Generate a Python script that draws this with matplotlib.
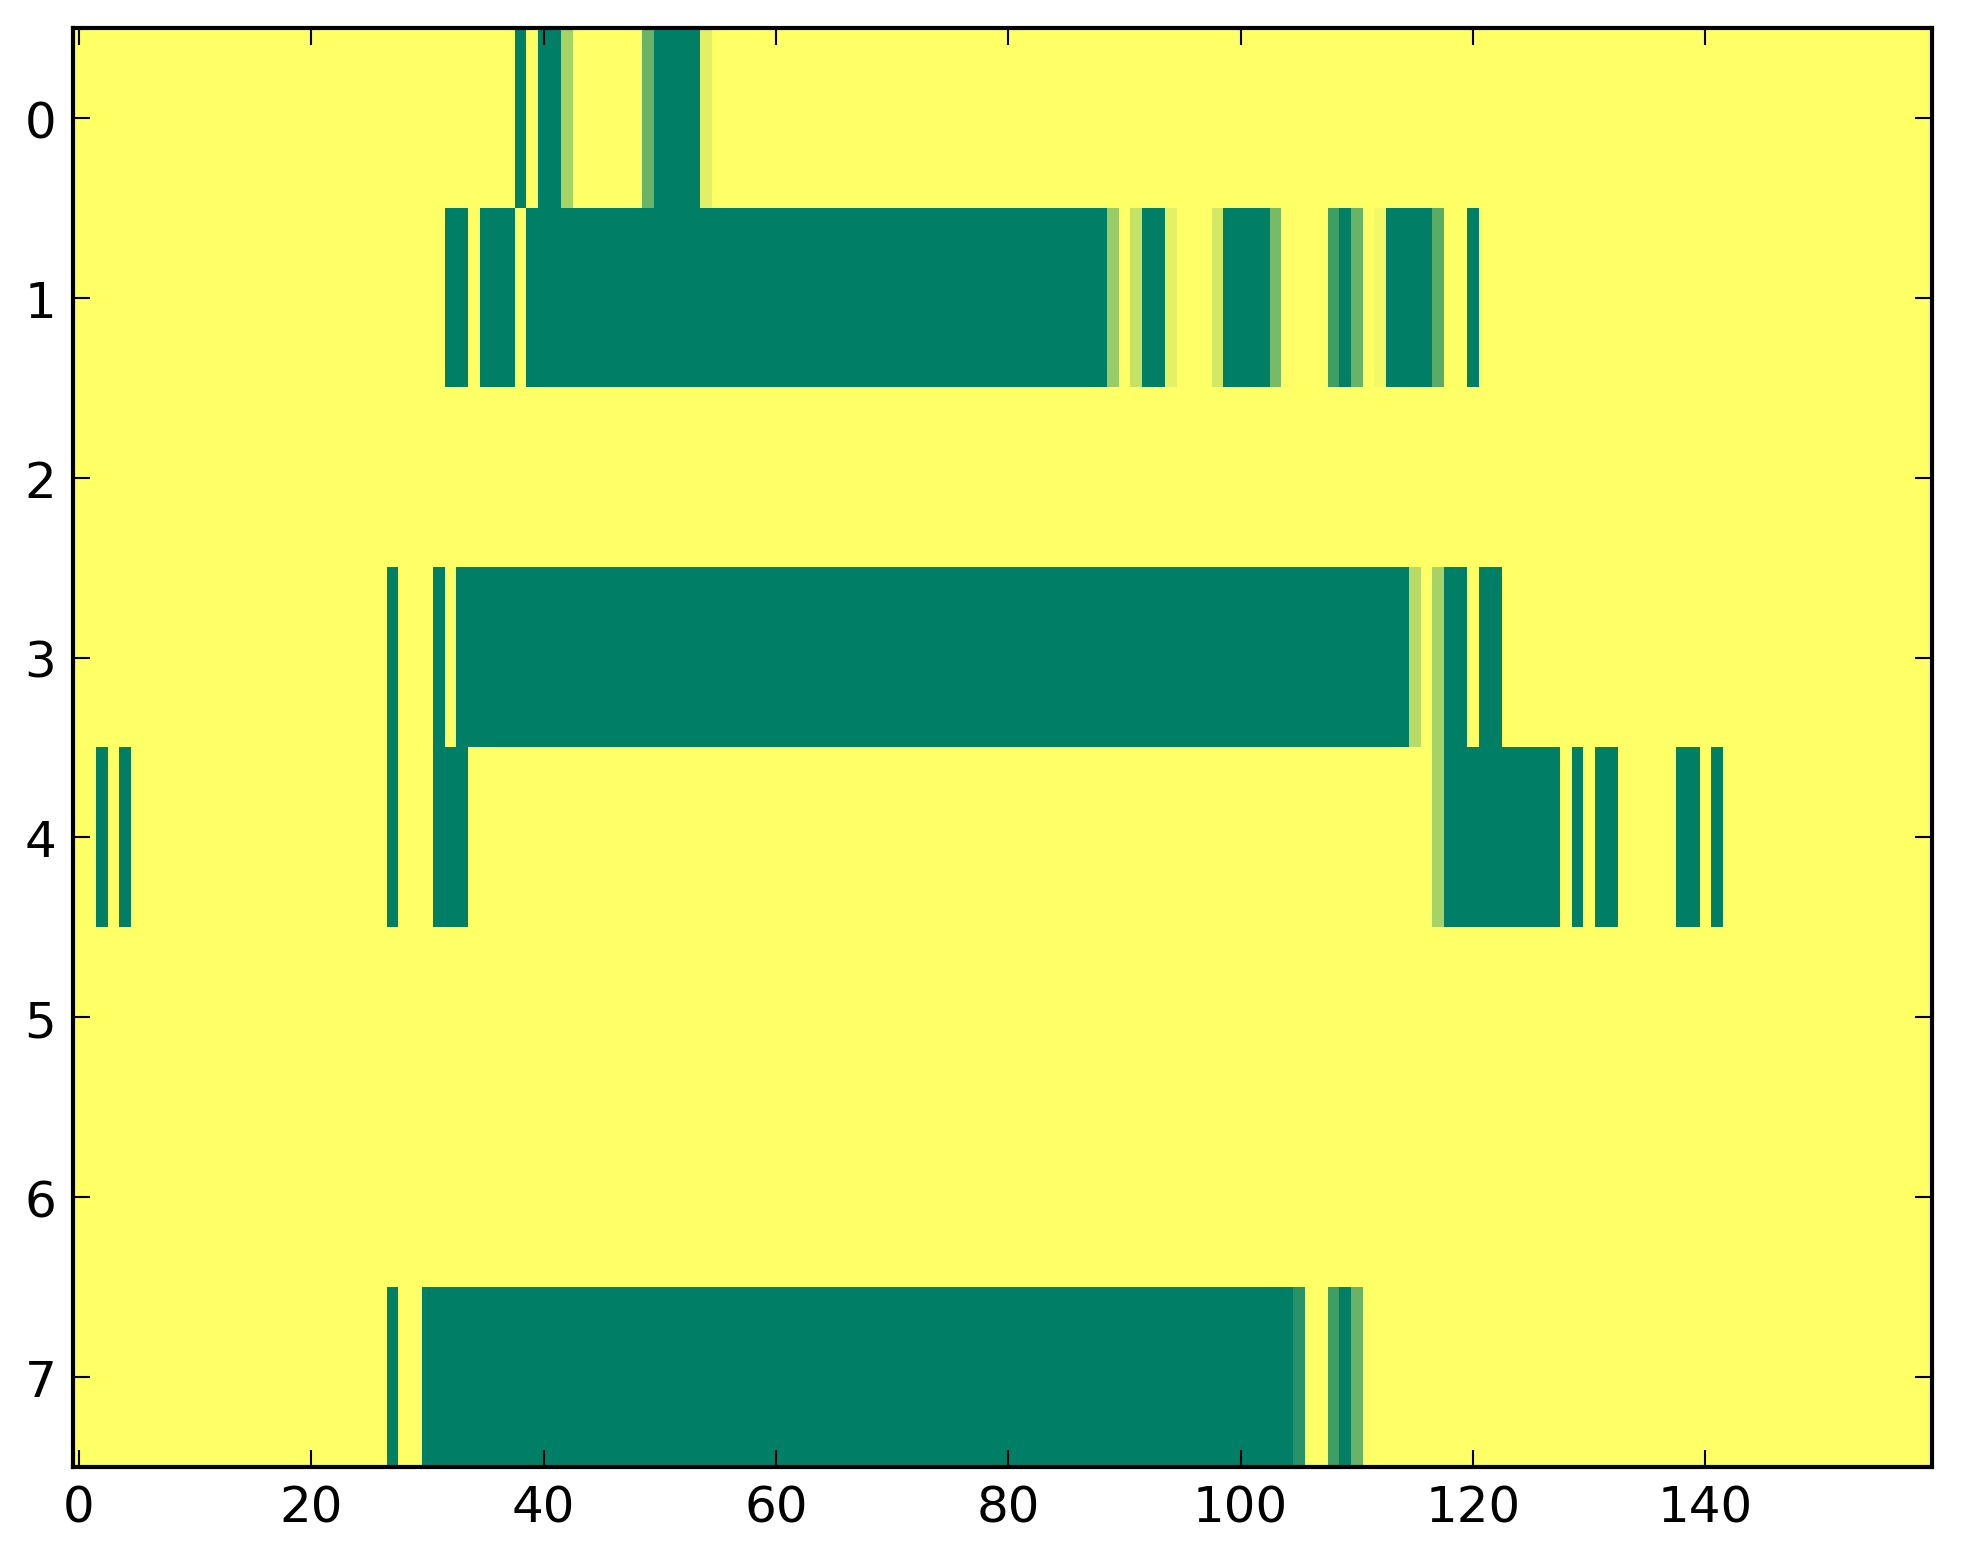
import numpy as np
import matplotlib
matplotlib.use("Agg")
from matplotlib import pyplot as plt

n_rows = 8
n_cols = 160

# activity per cell: (first column, last column, value); value 1 = full (dark green), 0 = none (yellow)
row0 = [(38, 38, 1.0), (40, 41, 1.0), (42, 42, 0.35), (49, 49, 0.59), (50, 53, 1.0), (54, 54, 0.12)]
row1 = [(32, 33, 1.0), (35, 37, 1.0), (39, 88, 1.0), (89, 89, 0.40), (91, 91, 0.23),
        (92, 93, 1.0), (94, 94, 0.11), (98, 98, 0.17), (99, 102, 1.0), (103, 103, 0.53),
        (108, 108, 0.76), (109, 109, 1.0), (110, 110, 0.59), (112, 112, 0.05),
        (113, 116, 1.0), (117, 117, 0.65), (120, 120, 1.0)]
row2 = []
row3 = [(27, 27, 1.0), (31, 31, 1.0), (33, 114, 1.0), (115, 115, 0.28), (117, 117, 0.35),
        (118, 119, 1.0), (121, 122, 1.0)]
row4 = [(2, 2, 1.0), (4, 4, 1.0), (27, 27, 1.0), (31, 33, 1.0), (117, 117, 0.35),
        (118, 127, 1.0), (129, 129, 1.0), (131, 132, 1.0), (138, 139, 1.0), (141, 141, 1.0)]
row5 = []
row6 = []
row7 = [(27, 27, 1.0), (30, 104, 1.0), (105, 105, 0.84), (108, 108, 0.76),
        (109, 109, 1.0), (110, 110, 0.59)]

rows = [row0, row1, row2, row3, row4, row5, row6, row7]

data = np.zeros((n_rows, n_cols))
for i, runs in enumerate(rows):
    for first, last, val in runs:
        data[i, first:last + 1] = val

plt.rcParams['font.family'] = 'DejaVu Sans'
plt.rcParams['font.size'] = 12
plt.rcParams['axes.linewidth'] = 1.0
plt.rcParams['xtick.direction'] = 'in'
plt.rcParams['ytick.direction'] = 'in'
plt.rcParams['xtick.top'] = True
plt.rcParams['ytick.right'] = True
plt.rcParams['xtick.major.size'] = 4
plt.rcParams['ytick.major.size'] = 4
plt.rcParams['xtick.major.width'] = 0.5
plt.rcParams['ytick.major.width'] = 0.5
plt.rcParams['xtick.major.pad'] = 4
plt.rcParams['ytick.major.pad'] = 4

fig = plt.figure(figsize=(1963 / 300, 1564 / 300), dpi=300)
ax = fig.add_axes([0.0372, 0.0614, 0.947, 0.920])
ax.imshow(data, cmap='summer_r', vmin=0, vmax=1, aspect='auto', interpolation='nearest')
ax.set_xticks(np.arange(0, 141, 20))
ax.set_yticks(np.arange(0, n_rows))

fig.savefig('out.png', dpi=300)
